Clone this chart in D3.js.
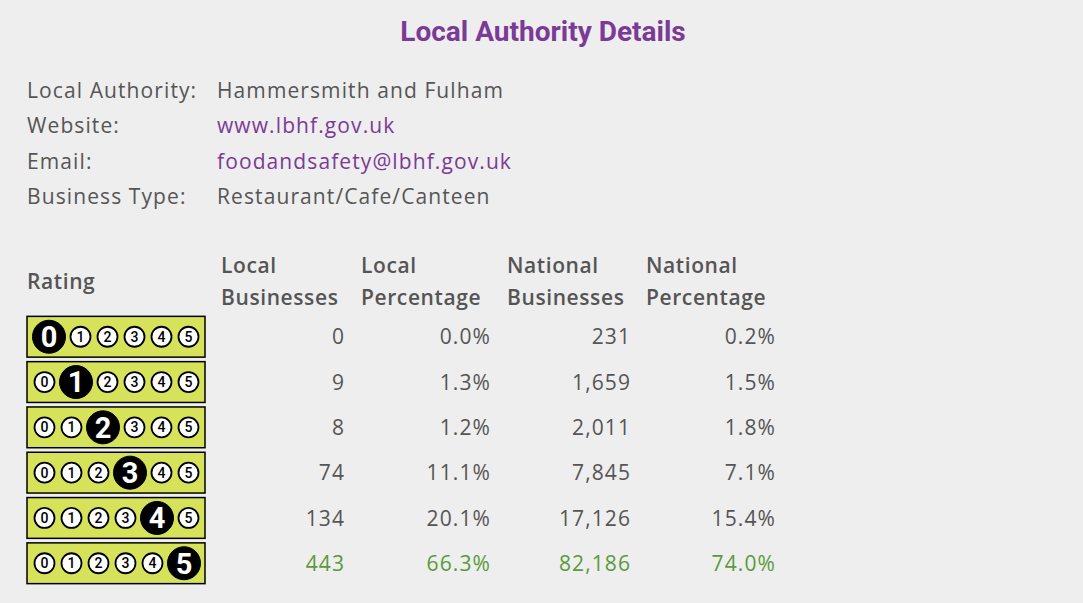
<!DOCTYPE html>
<html><head><meta charset="utf-8">
<script src="https://cdn.jsdelivr.net/npm/d3@7"></script>
<style>body{margin:0;background:#eeeeee;} text{font-family:"Open Sans",sans-serif;}</style>
</head><body><div id="plot"></div>
<script>
// Details rows
var detailLabels = ["Local Authority:", "Website:", "Email:", "Business Type:"];
var detailValues = ["Hammersmith and Fulham", "www.lbhf.gov.uk", "foodandsafety@lbhf.gov.uk", "Restaurant/Cafe/Canteen"];
var detailIsLink = [false, true, true, false];

// Table
var ratings = [0, 1, 2, 3, 4, 5];
var localBusinesses = ["0", "9", "8", "74", "134", "443"];
var localPercentage = ["0.0%", "1.3%", "1.2%", "11.1%", "20.1%", "66.3%"];
var nationalBusinesses = ["231", "1,659", "2,011", "7,845", "17,126", "82,186"];
var nationalPercentage = ["0.2%", "1.5%", "1.8%", "7.1%", "15.4%", "74.0%"];
var headers = [["Local", "Businesses"], ["Local", "Percentage"], ["National", "Businesses"], ["National", "Percentage"]];

var svg = d3.select("#plot").append("svg").attr("width", 1083).attr("height", 603);

svg.append("text").attr("x", 543).attr("y", 41).attr("text-anchor", "middle")
	.style("font-family", "Roboto").style("font-weight", "bold").style("font-size", "28px")
	.attr("fill", "#7b3a96").text("Local Authority Details");

// Details block
var ls = "1.1px";
var yd = d3.scalePoint().domain(d3.range(detailLabels.length)).range([98, 204]);
var det = svg.append("g").selectAll("g").data(detailLabels).enter().append("g");
det.append("text").attr("x", 27).attr("y", (d, i) => yd(i)).style("font-size", "21px").style("letter-spacing", ls).attr("fill", "#555").text(d => d);
det.append("text").attr("x", 217).attr("y", (d, i) => yd(i)).style("font-size", "21px").style("letter-spacing", ls)
	.attr("fill", (d, i) => detailIsLink[i] ? "#7b3a96" : "#555").text((d, i) => detailValues[i]);

// Table headers
svg.append("text").attr("x", 27).attr("y", 289).style("font-size", "21px").style("font-weight", "600").style("letter-spacing", "0.6px").attr("fill", "#555").text("Rating");
var colRight = [345, 491, 631, 776], colLeft = [221, 361, 507, 646];
headers.forEach(function(h, c){
	h.forEach(function(line, k){
		svg.append("text").attr("x", colLeft[c]).attr("y", 273 + k * 32).style("font-size", "21px")
			.style("font-weight", "600").style("letter-spacing", "0.6px").attr("fill", "#555").text(line);
	});
});

// Rows
var y = d3.scaleBand().domain(ratings).range([315, 585]).paddingInner(0.1).paddingOuter(0.03);
var cols = [localBusinesses, localPercentage, nationalBusinesses, nationalPercentage];
var rows = svg.append("g").selectAll("g").data(ratings).enter().append("g")
	.attr("transform", d => "translate(0," + y(d) + ")");
var h = y.bandwidth();

rows.append("rect").attr("x", 27).attr("y", 0).attr("width", 178).attr("height", h)
	.attr("fill", "#d6e35a").attr("stroke", "#000").attr("stroke-width", 1.5);

rows.each(function(r){
	var g = d3.select(this), x = 31;
	ratings.forEach(function(i){
		var big = i === r, w = big ? 36 : 27, rad = big ? 16.5 : 10, cx = x + w / 2;
		g.append("circle").attr("cx", cx).attr("cy", h / 2).attr("r", rad)
			.attr("fill", big ? "#000" : "#fff").attr("stroke", "#000").attr("stroke-width", big ? 1 : 1.8);
		g.append("text").attr("x", cx).attr("y", h / 2).attr("dy", "0.36em").attr("text-anchor", "middle")
			.style("font-family", "Roboto").style("font-weight", big ? "bold" : "500")
			.style("font-size", big ? "29px" : "14px").attr("fill", big ? "#fff" : "#000").text(i);
		x += w;
	});
	cols.forEach(function(col, c){
		g.append("text").attr("x", colRight[c]).attr("y", h / 2).attr("dy", "0.36em").attr("text-anchor", "end")
			.style("font-size", "21px").style("letter-spacing", ls).attr("fill", r === 5 ? "#5a9a3c" : "#555").text(col[r]);
	});
});
</script></body></html>
